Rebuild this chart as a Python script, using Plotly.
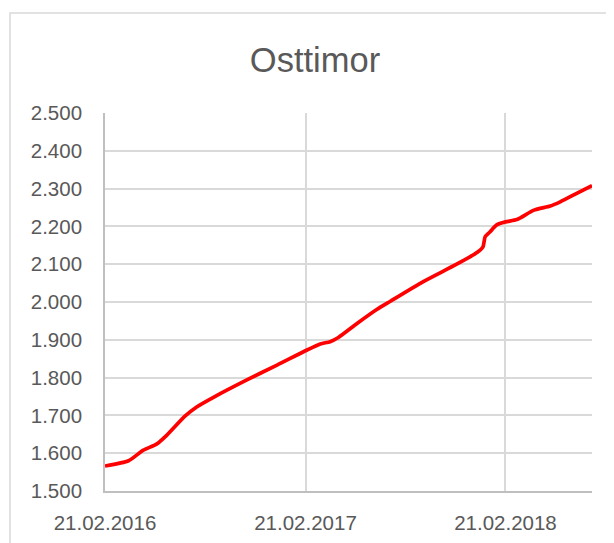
import plotly.graph_objects as go

dates = [
    "2016-02-21", "2016-04-04", "2016-05-01", "2016-05-25", "2016-06-13",
    "2016-07-16", "2016-08-07", "2016-09-06", "2016-11-06", "2016-12-31",
    "2017-02-21", "2017-03-20", "2017-04-07", "2017-04-22", "2017-05-26",
    "2017-07-01", "2017-07-26", "2017-09-24", "2017-11-24", "2017-12-31",
    "2018-01-11", "2018-01-15", "2018-01-24", "2018-02-05", "2018-02-21",
    "2018-03-14", "2018-04-14", "2018-05-14", "2018-06-01", "2018-07-02",
    "2018-07-29",
]
values = [
    1566, 1580, 1608, 1624, 1648,
    1698, 1723, 1748, 1794, 1833,
    1871, 1889, 1895, 1906, 1943,
    1980, 2002, 2054, 2100, 2131,
    2146, 2173, 2186, 2204, 2212,
    2218, 2243, 2254, 2265, 2288,
    2308,
]

x_tick_vals = ["2016-02-21", "2017-02-21", "2018-02-21"]
x_tick_text = ["21.02.2016", "21.02.2017", "21.02.2018"]
y_tick_vals = [1500, 1600, 1700, 1800, 1900, 2000, 2100, 2200, 2300, 2400, 2500]
y_tick_text = ["1.500", "1.600", "1.700", "1.800", "1.900", "2.000",
               "2.100", "2.200", "2.300", "2.400", "2.500"]

title_text = "Osttimor"

text_color = "#595959"
grid_color = "#d9d9d9"
font_family = "Liberation Sans, Arial, sans-serif"

# the page body adds an 8px offset, compensated in the margins
L, R, T, B = 97, 30, 105, 60
W, H = 614, 543
pw, ph = W - L - R, H - T - B

fig = go.Figure()
fig.add_trace(go.Scatter(
    x=dates, y=values, mode="lines",
    line=dict(color="#ff0000", width=3.7, shape="spline", smoothing=0.6),
    hoverinfo="skip", showlegend=False,
))

fig.update_layout(
    width=W, height=H,
    margin=dict(l=L, r=R, t=T, b=B),
    paper_bgcolor="white", plot_bgcolor="white",
    font=dict(family=font_family, color=text_color, size=20),
    title=dict(text=title_text, x=307 / W, xref="container", xanchor="center",
               y=1 - 52 / H, yref="container", yanchor="middle",
               font=dict(size=34.5, color=text_color, family=font_family)),
    showlegend=False,
)
fig.update_xaxes(
    type="date", range=["2016-02-21", "2018-07-29"],
    tickmode="array", tickvals=x_tick_vals, ticktext=x_tick_text,
    showgrid=True, gridcolor=grid_color, gridwidth=1.7,
    showline=True, linecolor="#bfbfbf", linewidth=1.7,
    ticks="", ticklabelstandoff=13, zeroline=False,
    tickfont=dict(size=20.5, color=text_color),
)
fig.update_yaxes(
    range=[1500, 2500],
    tickmode="array", tickvals=y_tick_vals, ticktext=y_tick_text,
    showgrid=True, gridcolor=grid_color, gridwidth=1.7,
    showline=True, linecolor="#bfbfbf", linewidth=1.7,
    ticks="", ticklabelstandoff=17, zeroline=False,
    tickfont=dict(size=20.5, color=text_color),
)

# outer chart-area border
fig.add_shape(type="rect", xref="paper", yref="paper",
              x0=(2 - L) / pw, x1=(630 - L) / pw,
              y0=(H - B - 570) / ph, y1=(H - B - 5) / ph,
              line=dict(color=grid_color, width=1.5), fillcolor="rgba(0,0,0,0)",
              layer="below")

fig.write_html("out.html")
